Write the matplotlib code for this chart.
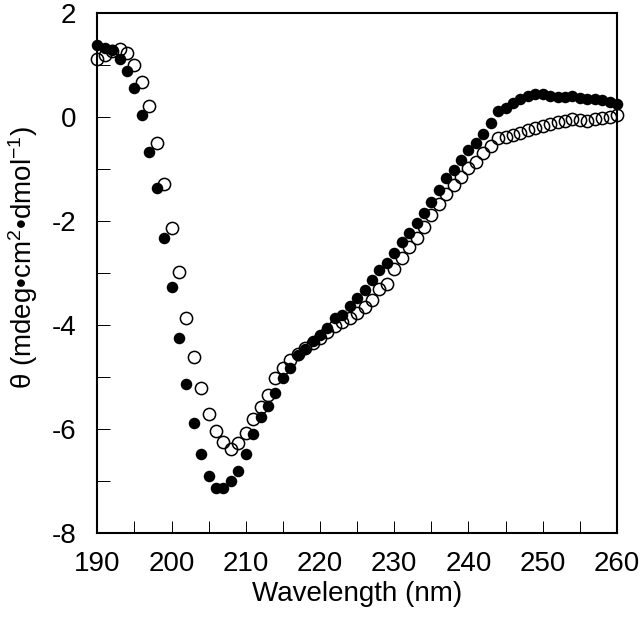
import numpy as np
import matplotlib
matplotlib.use("Agg")
import matplotlib.pyplot as plt
from matplotlib.ticker import MultipleLocator

plt.rcParams['font.family'] = ['Liberation Sans', 'DejaVu Sans']
plt.rcParams['mathtext.fontset'] = 'custom'
plt.rcParams['mathtext.rm'] = 'Liberation Sans'
plt.rcParams['axes.unicode_minus'] = False

# Длина волны (нм), шаг 1 нм
wavelength = np.arange(190, 261)

# Закрашенные кружки
filled = [
    1.38, 1.33, 1.28, 1.12, 0.88, 0.56, 0.04, -0.67, -1.37, -2.33,
    -3.27, -4.25, -5.13, -5.88, -6.48, -6.90, -7.13, -7.13, -7.00, -6.80,
    -6.48, -6.10, -5.77, -5.56, -5.31, -5.02, -4.83, -4.58, -4.46, -4.30,
    -4.20, -4.06, -3.87, -3.80, -3.64, -3.48, -3.33, -3.13, -2.95, -2.80,
    -2.62, -2.40, -2.24, -2.03, -1.84, -1.64, -1.40, -1.17, -1.02, -0.83,
    -0.64, -0.50, -0.33, -0.12, 0.12, 0.17, 0.27, 0.35, 0.40, 0.45,
    0.44, 0.40, 0.38, 0.38, 0.40, 0.36, 0.35, 0.35, 0.33, 0.29,
    0.25,
]

# Пустые кружки
hollow = [
    1.12, 1.20, 1.27, 1.31, 1.23, 1.00, 0.67, 0.21, -0.50, -1.29,
    -2.13, -2.98, -3.87, -4.62, -5.21, -5.71, -6.04, -6.25, -6.38, -6.27,
    -6.08, -5.81, -5.58, -5.35, -5.02, -4.83, -4.67, -4.55, -4.45, -4.35,
    -4.25, -4.13, -4.02, -3.94, -3.87, -3.77, -3.65, -3.52, -3.30, -3.22,
    -2.92, -2.72, -2.50, -2.32, -2.12, -1.88, -1.68, -1.48, -1.30, -1.15,
    -0.98, -0.87, -0.70, -0.56, -0.40, -0.38, -0.35, -0.31, -0.25, -0.21,
    -0.17, -0.13, -0.10, -0.08, -0.04, -0.06, -0.08, -0.04, -0.02, 0.00,
    0.04,
]

fig = plt.figure(figsize=(6.4, 6.17), dpi=100)
ax = fig.add_axes([0.152, 0.136, 0.812, 0.843])

ax.plot(wavelength, filled, 'o', color='black', markersize=8.3,
        markeredgewidth=0, clip_on=False, zorder=3)
ax.plot(wavelength, hollow, 'o', markerfacecolor='none', markeredgecolor='black',
        markersize=8.8, markeredgewidth=1.1, clip_on=False, zorder=3)

ax.set_xlim(190, 260)
ax.set_ylim(-8, 2)
ax.xaxis.set_major_locator(MultipleLocator(10))
ax.xaxis.set_minor_locator(MultipleLocator(5))
ax.yaxis.set_major_locator(MultipleLocator(2))
ax.yaxis.set_minor_locator(MultipleLocator(1))
ax.tick_params(which='both', direction='in', length=9, width=0.7,
               top=False, right=False, labelsize=20)
ax.tick_params(axis='x', pad=13)
ax.tick_params(axis='y', pad=15)
for s in ax.spines.values():
    s.set_linewidth(1.5)

ax.set_xlabel("Wavelength (nm)", fontsize=20, labelpad=3)
ax.set_ylabel(r"θ (mdeg•cm$\mathregular{^2}$•dmol$\mathregular{^{-1}}$)",
              fontsize=20)
ax.yaxis.set_label_coords(-0.11, 0.53)

fig.savefig("out.png", dpi=100)
